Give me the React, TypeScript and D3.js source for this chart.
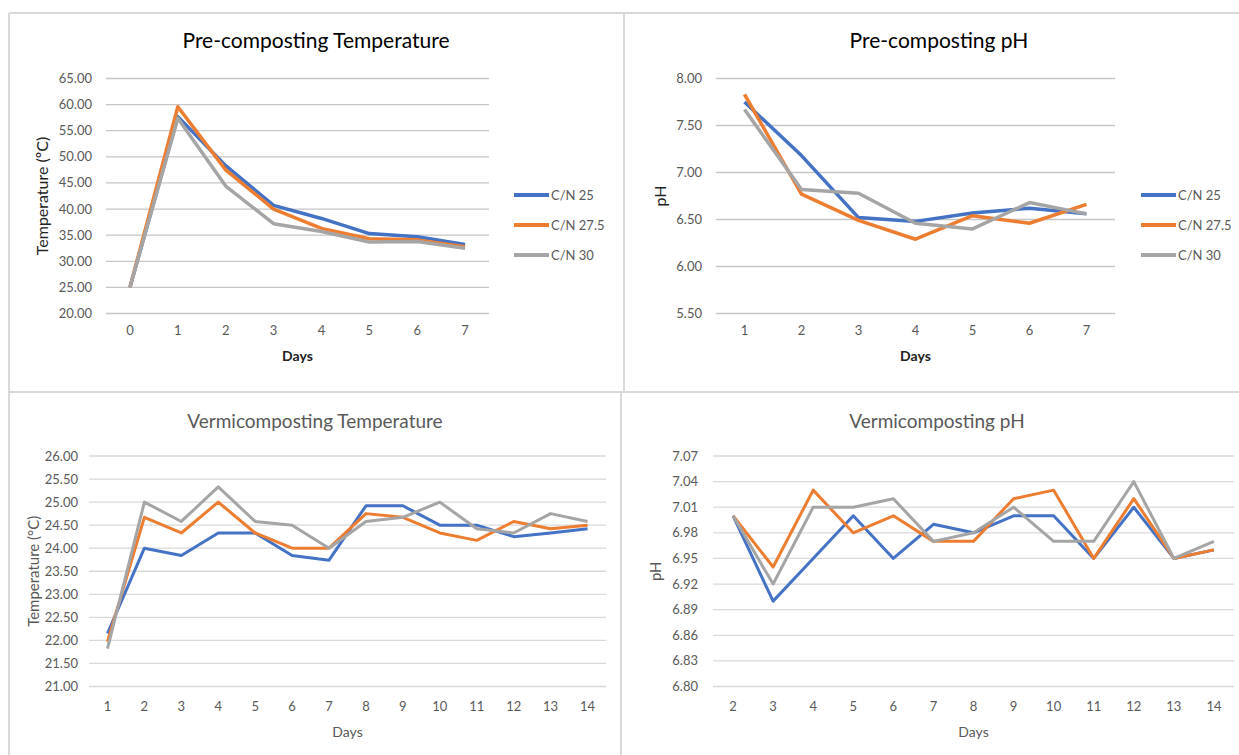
import * as d3 from 'd3';
import React from 'react';

// days on the x axis
const preDays = [0, 1, 2, 3, 4, 5, 6, 7];
const prePhDays = [1, 2, 3, 4, 5, 6, 7];
const vermTempDays = [1, 2, 3, 4, 5, 6, 7, 8, 9, 10, 11, 12, 13, 14];
const vermPhDays = [2, 3, 4, 5, 6, 7, 8, 9, 10, 11, 12, 13, 14];

const seriesNames = ['C/N 25', 'C/N 27.5', 'C/N 30'];
const colors = ['#4472C4', '#ED7D31', '#A5A5A5'];

// pre-composting temperature
const preTemp25 = [25, 57.7, 48.3, 40.7, 38.2, 35.3, 34.7, 33.2];
const preTemp275 = [25, 59.6, 47.5, 40.0, 36.3, 34.3, 34.1, 32.8];
const preTemp30 = [25, 57.4, 44.4, 37.2, 35.7, 33.7, 33.8, 32.5];
const preTempTicks = [20, 25, 30, 35, 40, 45, 50, 55, 60, 65];

// pre-composting pH
const prePh25 = [7.75, 7.18, 6.52, 6.48, 6.57, 6.62, 6.56];
const prePh275 = [7.83, 6.77, 6.49, 6.29, 6.54, 6.46, 6.66];
const prePh30 = [7.67, 6.82, 6.78, 6.46, 6.40, 6.68, 6.56];
const prePhTicks = [5.5, 6.0, 6.5, 7.0, 7.5, 8.0];

// vermicomposting temperature
const vermTemp25 = [22.15, 24.0, 23.84, 24.33, 24.33, 23.84, 23.74, 24.92, 24.92, 24.5, 24.5, 24.25, 24.33, 24.42];
const vermTemp275 = [21.97, 24.67, 24.33, 25.0, 24.33, 24.0, 24.0, 24.75, 24.67, 24.33, 24.17, 24.58, 24.42, 24.5];
const vermTemp30 = [21.82, 25.0, 24.58, 25.33, 24.58, 24.5, 24.0, 24.58, 24.67, 25.0, 24.42, 24.33, 24.75, 24.58];
const vermTempTicks = [21, 21.5, 22, 22.5, 23, 23.5, 24, 24.5, 25, 25.5, 26];

// vermicomposting pH
const vermPh25 = [7.0, 6.9, 6.95, 7.0, 6.95, 6.99, 6.98, 7.0, 7.0, 6.95, 7.01, 6.95, 6.96];
const vermPh275 = [7.0, 6.94, 7.03, 6.98, 7.0, 6.97, 6.97, 7.02, 7.03, 6.95, 7.02, 6.95, 6.96];
const vermPh30 = [7.0, 6.92, 7.01, 7.01, 7.02, 6.97, 6.98, 7.01, 6.97, 6.97, 7.04, 6.95, 6.97];
const vermPhTicks = [6.8, 6.83, 6.86, 6.89, 6.92, 6.95, 6.98, 7.01, 7.04, 7.07];

const FONT = 'Lato, "Open Sans", sans-serif';

function Panel(p: any) {
  const x = d3.scalePoint<number>().domain(p.days).range([p.x0, p.x1]).padding(0.5);
  const y = d3.scaleLinear().domain(p.domain).range([p.yb, p.yt]);
  const line = d3.line<number>()
    .x((d, i) => x(p.days[i]) as number)
    .y(d => y(d));
  return (
    <g fontFamily={FONT}>
      <text x={p.titleX} y={p.titleY} textAnchor="middle" fontSize={p.titleSize}
        fill={p.titleColor}>{p.title}</text>
      {p.ticks.map((t: number) => (
        <g key={t}>
          <line x1={p.x0} x2={p.x1} y1={y(t)} y2={y(t)} stroke={p.gridColor} strokeWidth={1.3} />
          <text x={p.x0 - p.tickGap} y={y(t)} dy="0.35em" textAnchor="end" fontSize={13}
            fill="#595959">{t.toFixed(2)}</text>
        </g>
      ))}
      {p.days.map((d: number) => (
        <text key={d} x={x(d)} y={p.yb + p.dayGap} textAnchor="middle" fontSize={13}
          fill="#595959">{d}</text>
      ))}
      <text x={(p.x0 + p.x1) / 2} y={p.yb + p.dayGap + 26} textAnchor="middle" fontSize={14}
        fontWeight={p.axisBold ? 'bold' : 'normal'} fill={p.axisColor}>Days</text>
      <text transform={`translate(${p.ylx},${(p.yt + p.yb) / 2}) rotate(-90)`} textAnchor="middle"
        fontSize={p.ylSize} fill={p.axisColor} dy="0.35em">{p.yLabel}</text>
      {p.series.map((s: number[], i: number) => (
        <path key={i} d={line(s) as string} fill="none" stroke={colors[i]} strokeWidth={p.lw}
          strokeLinejoin="round" />
      ))}
      {p.legendX != null && seriesNames.map((n, i) => (
        <g key={n}>
          <line x1={p.legendX} x2={p.legendX + 35} y1={195 + i * 30} y2={195 + i * 30}
            stroke={colors[i]} strokeWidth={4} />
          <text x={p.legendX + 37} y={195 + i * 30} dy="0.35em" fontSize={13}
            fill="#595959">{n}</text>
        </g>
      ))}
    </g>
  );
}

export default function App() {
  const frame = '#d9d9d9';
  return (
    <svg width={1239} height={755} style={{ position: 'absolute', left: 0, top: 0, background: '#fff' }}>
      <rect width={1239} height={755} fill="#fff" />
      <line x1={9} x2={1239} y1={13} y2={13} stroke={frame} strokeWidth={2} />
      <line x1={9} x2={9} y1={13} y2={755} stroke={frame} strokeWidth={2} />
      <line x1={624} x2={624} y1={13} y2={392} stroke={frame} strokeWidth={2} />
      <line x1={9} x2={1239} y1={392} y2={392} stroke={frame} strokeWidth={2} />
      <line x1={621} x2={621} y1={392} y2={755} stroke={frame} strokeWidth={2} />

      <Panel title="Pre-composting Temperature" titleX={316} titleY={48} titleSize={21} titleColor="#000"
        days={preDays} series={[preTemp25, preTemp275, preTemp30]} ticks={preTempTicks} domain={[20, 65]}
        x0={106} x1={489} yt={78.5} yb={313.5} gridColor="#c6c6c6" tickGap={14} dayGap={21}
        yLabel="Temperature (ºC)" ylx={42} ylSize={16} axisColor="#222" axisBold lw={3.5} legendX={514} />

      <Panel title="Pre-composting pH" titleX={939} titleY={48} titleSize={21} titleColor="#000"
        days={prePhDays} series={[prePh25, prePh275, prePh30]} ticks={prePhTicks} domain={[5.5, 8]}
        x0={716} x1={1115} yt={78.5} yb={313.5} gridColor="#c6c6c6" tickGap={14} dayGap={21}
        yLabel="pH" ylx={660} ylSize={16} axisColor="#222" axisBold lw={3.5} legendX={1141} />

      <Panel title="Vermicomposting Temperature" titleX={315} titleY={428} titleSize={19} titleColor="#595959"
        days={vermTempDays} series={[vermTemp25, vermTemp275, vermTemp30]} ticks={vermTempTicks} domain={[21, 26]}
        x0={89} x1={606} yt={456} yb={686.5} gridColor="#d9d9d9" tickGap={11} dayGap={24}
        yLabel="Temperature (°C)" ylx={34} ylSize={15} axisColor="#595959" lw={3} />

      <Panel title="Vermicomposting pH" titleX={937} titleY={428} titleSize={19} titleColor="#595959"
        days={vermPhDays} series={[vermPh25, vermPh275, vermPh30]} ticks={vermPhTicks} domain={[6.8, 7.07]}
        x0={713} x1={1234} yt={456} yb={686.5} gridColor="#d9d9d9" tickGap={15} dayGap={24}
        yLabel="pH" ylx={656} ylSize={15} axisColor="#595959" lw={3} />
    </svg>
  );
}
